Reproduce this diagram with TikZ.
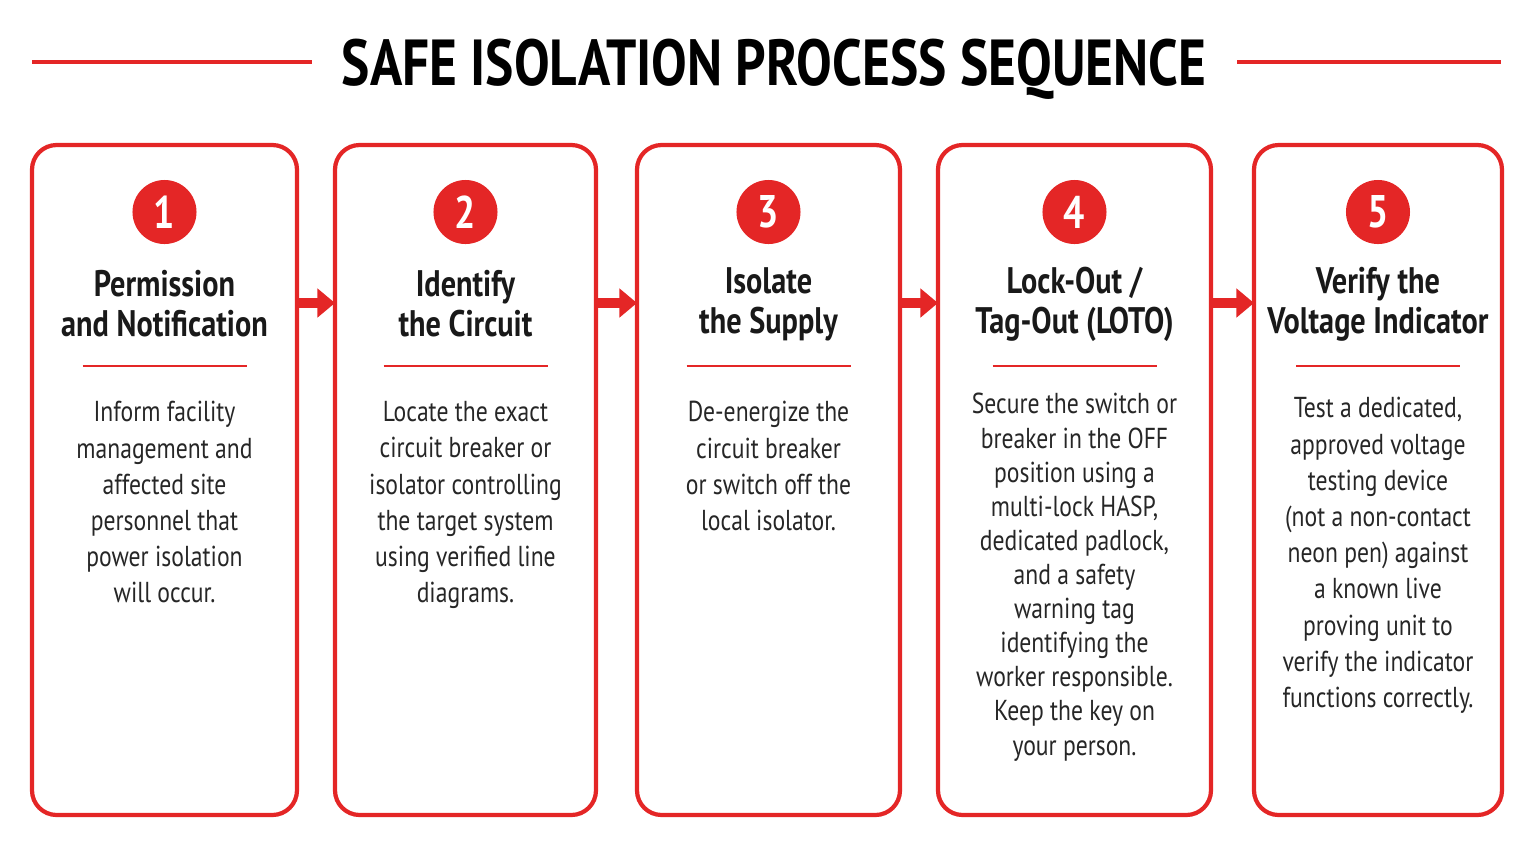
\documentclass[tikz,border=0pt]{standalone}
\usepackage{fontspec}
\setmainfont{PT Sans}[FakeStretch=0.82]
\usetikzlibrary{calc}
\usetikzlibrary{arrows.meta}
\definecolor{safered}{RGB}{228,38,38}
\tikzset{
  card/.style={draw=safered,line width=1.2pt,rounded corners=7pt},
  badge/.style={circle,fill=safered,minimum size=0.64cm,inner sep=0pt,text=white,font=\bfseries\fontsize{13}{13}\selectfont},
  steptitle/.style={align=center,font=\bfseries\fontsize{10.5}{11.4}\selectfont,text=black!90},
  stepbody/.style={align=center,font=\fontsize{8.2}{10.3}\selectfont,text=black!85,anchor=north},
  flow/.style={-{Triangle[length=5pt,width=8pt]},safered,line width=2.6pt}
}
\begin{document}
\begin{tikzpicture}[x=0.01cm,y=-0.01cm]
  % Boundary
  \path[use as bounding box] (0,0) rectangle (1535,857);
  % Header
  \node[font=\bfseries\fontsize{18.5}{18.5}\selectfont] (head) at (774,69) {SAFE ISOLATION PROCESS SEQUENCE};
  \coordinate (hl) at (32,62);
  \coordinate (hr) at (1501,62);
  \draw[safered,line width=1.1pt] (hl) -- (312,62);
  \draw[safered,line width=1.1pt] (1237,62) -- (hr);
  % Step cards
  \foreach \i/\cx/\hw/\ty/\title/\by/\body in {
    1/164.5/132.5/304/{Permission\\and Notification}/389/{Inform facility\\management and\\affected site\\personnel that\\power isolation\\will occur.},
    2/465.5/130.5/304/{Identify\\the Circuit}/389/{Locate the exact\\circuit breaker or\\isolator controlling\\the target system\\using verified line\\diagrams.},
    3/768.5/131.5/304/{Isolate\\the Supply}/389/{De-energize the\\circuit breaker\\or switch off the\\local isolator.},
    4/1074.5/136.5/304/{Lock-Out /\\Tag-Out (LOTO)}/381/{Secure the switch or\\breaker in the OFF\\position using a\\multi-lock HASP,\\dedicated padlock,\\and a safety\\warning tag\\identifying the\\worker responsible.\\Keep the key on\\your person.},
    5/1378/124/304/{Verify the\\Voltage Indicator}/385/{Test a dedicated,\\approved voltage\\testing device\\(not a non-contact\\neon pen) against\\a known live\\proving unit to\\verify the indicator\\functions correctly.}} {
    \draw[card] (\cx-\hw,145) rectangle (\cx+\hw,815);
    \coordinate (l\i) at (\cx-\hw,303);
    \coordinate (r\i) at (\cx+\hw,303);
    \node[badge] (n\i) at (\cx,212) {\i};
    \node[steptitle] (t\i) at (\cx,\ty) {\title};
    \draw[safered,line width=0.8pt] (\cx-82,366) -- (\cx+82,366);
    \ifnum\i=4
      \node[stepbody,font=\fontsize{8.2}{9.7}\selectfont] (b\i) at (\cx,\by) {\body};
    \else
      \node[stepbody] (b\i) at (\cx,\by) {\body};
    \fi
  }
  % Flow arrows
  \foreach \a/\b in {1/2,2/3,3/4,4/5}
    \draw[flow] (r\a) -- (l\b);
\end{tikzpicture}
\end{document}
